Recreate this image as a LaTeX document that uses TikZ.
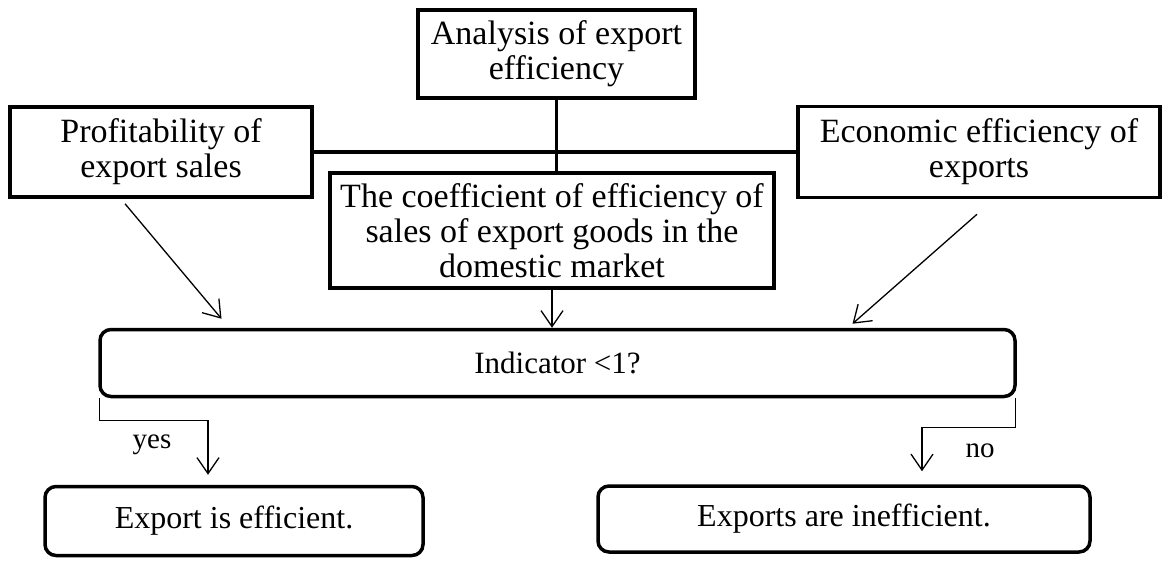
\documentclass[tikz,border=0pt]{standalone}
\usepackage{fontspec}
\setmainfont{Liberation Serif}
\usetikzlibrary{arrows.meta,calc}
\begin{document}
\begin{tikzpicture}[x=1pt,y=-1pt,
  every node/.style={font=\fontsize{34}{35}\selectfont},
  box/.style={draw, line width=3.5pt, inner sep=0pt, align=center, fill=white},
  rbox/.style={box, rounded corners=11pt, font=\fontsize{32}{35}\selectfont},
  link/.style={line width=3.5pt},
  arr/.style={line width=1.3pt, -{Straight Barb[length=16pt,width=22pt]}},
  lbl/.style={font=\fontsize{29}{33}\selectfont, inner sep=0pt}]
\useasboundingbox (0,0) rectangle (1165,560);
\fill[white] (0,0) rectangle (1165,560);

\node[box, minimum width=277pt, minimum height=88pt] (top) at (556.5,54) {Analysis of export\\efficiency};
\node[box, minimum width=302pt, minimum height=90pt] (left) at (161,152) {Profitability of\\export sales};
\node[box, minimum width=362pt, minimum height=91pt] (right) at (979,152) {Economic efficiency of\\exports};
\node[box, minimum width=444pt, minimum height=115pt] (coef) at (552,230.5) {The coefficient of efficiency of\\sales of export goods in the\\domestic market};
\node[rbox, minimum width=915pt, minimum height=67pt, font=\fontsize{31}{35}\selectfont] (ind) at (557.5,363) {Indicator <1?};
\node[rbox, minimum width=378pt, minimum height=69pt] (eff) at (234,521) {Export is efficient.};
\node[rbox, minimum width=492pt, minimum height=66pt] (ineff) at (844,519) {Exports are inefficient.};

\draw[link] (left.east) -- (right.west);
\draw[link] (top.south) -- (top.south |- coef.north);

\draw[arr] ([xshift=-36pt,yshift=-5pt]left.south) -- ([xshift=-336pt,yshift=9pt]ind.north);
\draw[arr] ([xshift=-2pt,yshift=-15pt]right.south) -- ([xshift=295pt,yshift=4pt]ind.north);
\draw[arr] (coef.south) -- (coef.south |- ind.north);

\draw[arr] ([xshift=1pt]ind.south west) -- ++(0,22) -| ([xshift=-26pt,yshift=10pt]eff.north);
\draw[arr] ([xshift=-1pt]ind.south east) -- ++(0,29) -| ([xshift=78pt,yshift=13pt]ineff.north);

\node[lbl] (yes) at (152,445) {yes};
\node[lbl] (no) at (980,451) {no};
\end{tikzpicture}
\end{document}
